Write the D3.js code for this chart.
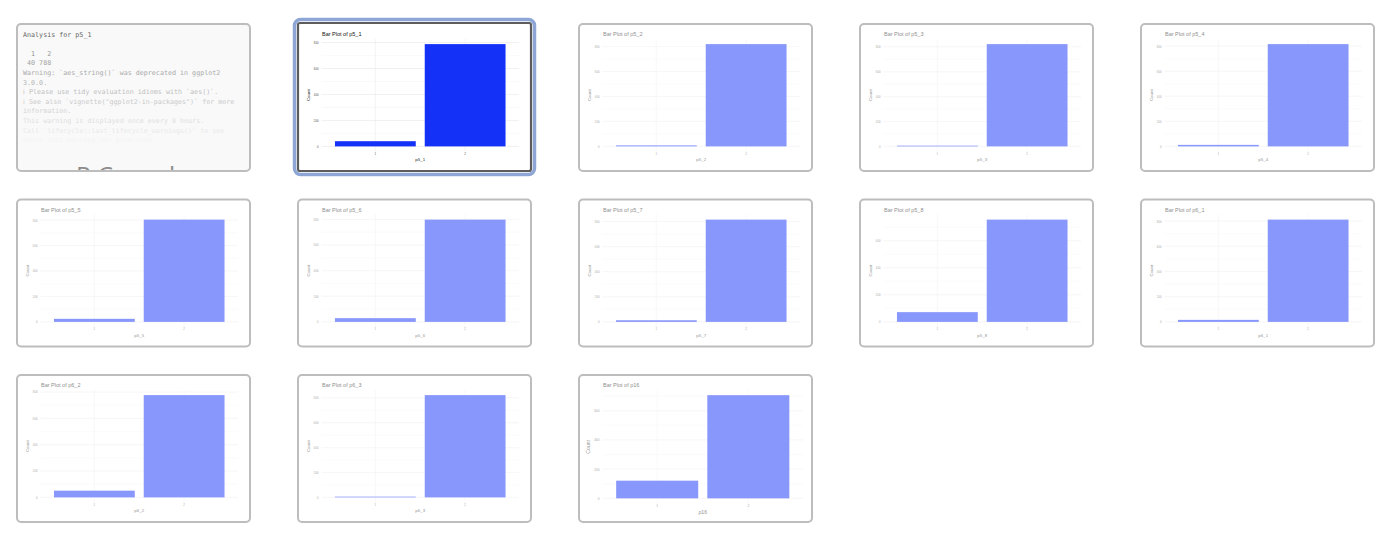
<!DOCTYPE html>
<html>
<head>
<meta charset="utf-8">
<script src="https://cdn.jsdelivr.net/npm/d3@7"></script>
<style>
  html, body { margin: 0; padding: 0; background: #ffffff; }
  svg { display: block; }
</style>
</head>
<body>
<div id="chart"></div>
<script>
// ---------------- data ----------------
const variables = ["p5_1", "p5_2", "p5_3", "p5_4", "p5_5", "p5_6", "p5_7", "p5_8", "p6_1", "p6_2", "p6_3", "p16"];
const categories = ["1", "2"];
const countLevel1 = [40, 8, 6, 12, 24, 29, 13, 72, 16, 51, 6, 121];
const countLevel2 = [788, 820, 822, 816, 804, 799, 815, 756, 812, 777, 822, 707];
const consoleLines = [
  "Analysis for p5_1",
  "",
  "  1   2",
  " 40 788",
  "Warning: `aes_string()` was deprecated in ggplot2",
  "3.0.0.",
  "\u2139 Please use tidy evaluation idioms with `aes()`.",
  "\u2139 See also `vignette(\"ggplot2-in-packages\")` for more",
  "information.",
  "This warning is displayed once every 8 hours.",
  "Call `lifecycle::last_lifecycle_warnings()` to see",
  "where this warning was generated."
];
const consoleTitle = "R Console";
const selectedVariable = "p5_1";

// ---------------- layout ----------------
const W = 1400, H = 558;
const cardW = 235, cardH = 149;
const colPitch = 281, rowPitch = 175.5;
const gridX0 = 16, gridY0 = 23;

const svg = d3.select("#chart").append("svg")
  .attr("width", W).attr("height", H)
  .style("font-family", "'Liberation Sans', Arial, sans-serif");

const defs = svg.append("defs");

function cardPos(i) {
  return [gridX0 + (i % 5) * colPitch, gridY0 + Math.floor(i / 5) * rowPitch];
}

// ---------------- console card ----------------
{
  const [cx, cy] = cardPos(0);
  const g = svg.append("g").attr("transform", `translate(${cx},${cy})`);
  defs.append("clipPath").attr("id", "clip-console")
    .append("rect").attr("x", 1).attr("y", 1).attr("width", cardW - 2).attr("height", cardH - 2).attr("rx", 3);
  g.append("rect").attr("x", 1).attr("y", 1).attr("width", cardW - 2).attr("height", cardH - 2)
    .attr("rx", 4).attr("fill", "#f9f9f9");
  const inner = g.append("g").attr("clip-path", "url(#clip-console)");
  const fade = d3.scaleLinear().domain([0, 2, 11]).range(["#676767", "#959595", "#f4f4f4"]).clamp(true);
  inner.selectAll("text.line").data(consoleLines).join("text")
    .attr("class", "line")
    .attr("x", 7)
    .attr("y", (d, i) => 13.5 + i * 9.6)
    .attr("font-family", "'DejaVu Sans Mono', monospace")
    .attr("font-size", 6.7)
    .attr("fill", (d, i) => fade(i))
    .style("white-space", "pre")
    .attr("xml:space", "preserve")
    .text(d => d);
  inner.append("text")
    .attr("x", cardW / 2 - 1).attr("y", 160.5)
    .attr("text-anchor", "middle")
    .attr("font-family", "'Open Sans', sans-serif")
    .attr("font-size", 24.5)
    .attr("fill", "#8c8c8c")
    .text(consoleTitle);
  g.append("rect").attr("x", 1).attr("y", 1).attr("width", cardW - 2).attr("height", cardH - 2)
    .attr("rx", 4).attr("fill", "none").attr("stroke", "#bdbdbd").attr("stroke-width", 2);
}

// ---------------- chart cards ----------------
variables.forEach((v, k) => {
  const i = k + 1;
  const [cx, cy] = cardPos(i);
  const selected = v === selectedVariable && k === 0;
  const big = v === "p16";
  const g = svg.append("g").attr("transform", `translate(${cx},${cy})`);

  if (selected) {
    g.append("rect").attr("x", -2.5).attr("y", -3.5).attr("width", cardW + 5).attr("height", cardH + 6)
      .attr("rx", 6).attr("fill", "none").attr("stroke", "#8ea6d6").attr("stroke-width", 3.5);
  }
  g.append("rect").attr("x", 1).attr("y", selected ? 0 : 1).attr("width", cardW - 2).attr("height", cardH - 2)
    .attr("rx", selected ? 2 : 4).attr("fill", "#ffffff");

  const plot = g.append("g").attr("opacity", selected ? 1 : 0.5);

  const left = 24.5, right = big ? 225 : 222, top = 16, bottom = big ? 129.5 : 128.5;
  const vals = [countLevel1[k], countLevel2[k]];
  const maxV = d3.max(vals);

  const x = d3.scaleBand().domain(categories).range([left, right]).paddingInner(0.1).paddingOuter(0.15);
  const y = d3.scaleLinear().domain([-0.05 * maxV, 1.05 * maxV]).range([bottom, top]);

  const major = y.ticks(5).filter(t => t >= 0);
  const minor = y.ticks(10).filter(t => t >= 0 && !major.includes(t));

  // grid
  plot.append("g").selectAll("line.minor").data(minor).join("line")
    .attr("x1", left).attr("x2", right).attr("y1", d => y(d)).attr("y2", d => y(d))
    .attr("stroke", "#f1f1f1").attr("stroke-width", 0.4);
  plot.append("g").selectAll("line.major").data(major).join("line")
    .attr("x1", left).attr("x2", right).attr("y1", d => y(d)).attr("y2", d => y(d))
    .attr("stroke", "#e6e6e6").attr("stroke-width", 0.6);
  plot.append("g").selectAll("line.vmajor").data(categories).join("line")
    .attr("x1", d => x(d) + x.bandwidth() / 2).attr("x2", d => x(d) + x.bandwidth() / 2)
    .attr("y1", top).attr("y2", bottom)
    .attr("stroke", "#ececec").attr("stroke-width", 0.6);

  // bars
  plot.append("g").selectAll("rect.bar").data(categories.map((c, j) => ({ c, v: vals[j] }))).join("rect")
    .attr("x", d => x(d.c)).attr("width", x.bandwidth())
    .attr("y", d => y(d.v)).attr("height", d => y(0) - y(d.v))
    .attr("fill", "#1431f8");

  // axes (no lines)
  const tickFont = big ? 3.2 : 2.8;
  const ya = plot.append("g").attr("transform", `translate(${left},0)`)
    .call(d3.axisLeft(y).tickValues(major).tickSize(0).tickPadding(3));
  ya.select(".domain").remove();
  ya.selectAll("text").attr("font-size", tickFont).attr("fill", "#4d4d4d").attr("font-family", "'Liberation Sans', Arial, sans-serif");

  const xa = plot.append("g").attr("transform", `translate(0,${bottom})`)
    .call(d3.axisBottom(x).tickSize(0).tickPadding(1.5));
  xa.select(".domain").remove();
  xa.selectAll("text").attr("font-size", tickFont).attr("fill", "#4d4d4d").attr("font-family", "'Liberation Sans', Arial, sans-serif");

  // axis titles
  const titleFont = big ? 5.2 : 4.4;
  plot.append("text")
    .attr("x", (left + right) / 2).attr("y", big ? 140 : 138)
    .attr("text-anchor", "middle").attr("font-size", titleFont).attr("fill", "#222")
    .text(v);
  plot.append("text")
    .attr("transform", `translate(${big ? 11.5 : 12.5},${(top + bottom) / 2}) rotate(-90)`)
    .attr("text-anchor", "middle").attr("font-size", titleFont).attr("fill", "#222")
    .text("Count");

  // plot title
  plot.append("text")
    .attr("x", left + 0.5).attr("y", 13.2)
    .attr("font-size", 5.5).attr("fill", "#111")
    .text(`Bar Plot of ${v}`);

  // border
  g.append("rect").attr("x", 1).attr("y", selected ? 0 : 1).attr("width", cardW - 2).attr("height", cardH - 2 + (selected ? 1 : 0))
    .attr("rx", selected ? 2 : 4).attr("fill", "none")
    .attr("stroke", selected ? "#5c5c5c" : "#bdbdbd").attr("stroke-width", selected ? 2.2 : 2);
});
</script>
</body>
</html>
